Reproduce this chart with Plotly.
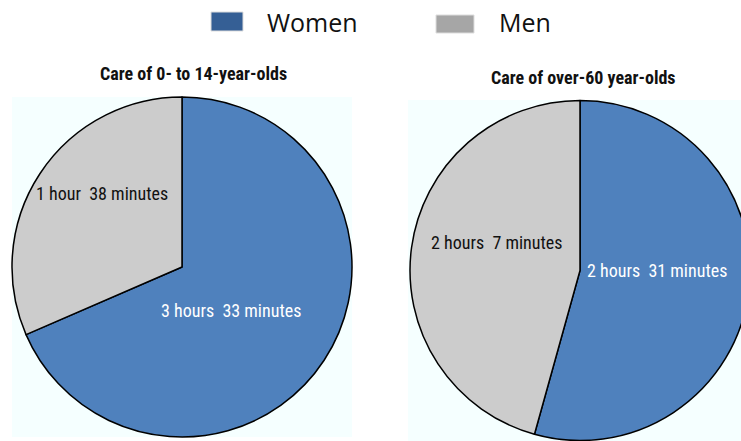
import plotly.graph_objects as go

# Average daily time spent caring, in minutes
groups = ["Women", "Men"]
child_care_minutes = [213, 98]     # care of 0- to 14-year-olds
elder_care_minutes = [151, 127]    # care of over-60 year-olds
panel_titles = ["Care of 0- to 14-year-olds", "Care of over-60 year-olds"]

slice_colors = ["#4F81BD", "#CCCCCC"]
legend_colors = ["#355F95", "#A6A6A6"]
label_colors = ["white", "#111111"]
panel_bg = "#F5FFFF"

W, H = 760, 441
NARROW = "Liberation Sans Narrow, Arial Narrow, Roboto Condensed, sans-serif"


def fmt(minutes):
    h, m = divmod(minutes, 60)
    return f"{h} hour{'s' if h != 1 else ''}  {m} minutes"


def px_x(v):
    return v / W


def px_y(v):
    return 1 - v / H


# pie geometry in pixels: (centre x, centre y, radius)
pies = [(182, 267, 170), (580, 270.5, 170)]
# panel backgrounds in pixels: (x0, y0, x1, y1)
panels = [(12, 97, 352, 437), (408, 100, 760, 441)]
# title centres in pixels
title_pos = [(193, 73), (583, 77)]
# label anchor points, pixel offsets from the pie centre
label_offsets = [
    [(49, 43), (-80, -74)],
    [(77, 0), (-83, -28)],
]

fig = go.Figure()
shapes = []
annotations = []

for i, values in enumerate([child_care_minutes, elder_care_minutes]):
    cx, cy, r = pies[i]
    fig.add_trace(go.Pie(
        labels=groups,
        values=values,
        sort=False,
        direction="clockwise",
        rotation=0,
        marker=dict(colors=slice_colors, line=dict(color="black", width=1.5)),
        textinfo="none",
        hoverinfo="label+value",
        showlegend=False,
        domain=dict(x=[px_x(cx - r), px_x(cx + r)], y=[px_y(cy + r), px_y(cy - r)]),
    ))
    x0, y0, x1, y1 = panels[i]
    shapes.append(dict(type="rect", xref="paper", yref="paper",
                       x0=px_x(x0), x1=px_x(x1), y0=px_y(y1), y1=px_y(y0),
                       fillcolor=panel_bg, line=dict(width=0), layer="below"))
    tx, ty = title_pos[i]
    annotations.append(dict(text=f"<b>{panel_titles[i]}</b>", xref="paper", yref="paper",
                            x=px_x(tx), y=px_y(ty), showarrow=False,
                            xanchor="center", yanchor="middle",
                            font=dict(family=NARROW, size=18, color="#111111")))
    for j, v in enumerate(values):
        dx, dy = label_offsets[i][j]
        annotations.append(dict(text=fmt(v), xref="paper", yref="paper",
                                x=px_x(cx + dx), y=px_y(cy + dy), showarrow=False,
                                xanchor="center", yanchor="middle",
                                font=dict(family=NARROW, size=18, color=label_colors[j])))

# legend drawn as swatches with text
legend_items = [(211, 243, 12, 31, 265), (436, 474, 15, 33, 497)]
for k, (lx0, lx1, ly0, ly1, tx) in enumerate(legend_items):
    shapes.append(dict(type="rect", xref="paper", yref="paper",
                       x0=px_x(lx0), x1=px_x(lx1), y0=px_y(ly1), y1=px_y(ly0),
                       fillcolor=legend_colors[k], line=dict(color="#DDDDDD", width=1)))
    annotations.append(dict(text=groups[k], xref="paper", yref="paper",
                            x=px_x(tx), y=px_y(22), showarrow=False,
                            xanchor="left", yanchor="middle",
                            font=dict(family="Open Sans, sans-serif", size=25, color="#111111")))

fig.update_layout(
    width=W, height=H,
    margin=dict(l=0, r=0, t=0, b=0),
    paper_bgcolor="white",
    plot_bgcolor="white",
    shapes=shapes,
    annotations=annotations,
)

fig.write_html(
    "out.html",
    config={"displayModeBar": False},
    post_script="document.documentElement.style.overflow='hidden';"
                "document.body.style.overflow='hidden';document.body.style.margin='0';",
)
